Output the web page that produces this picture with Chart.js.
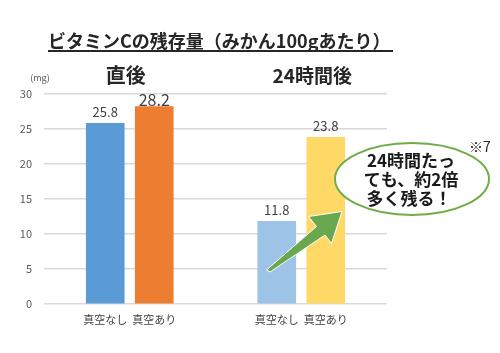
<!DOCTYPE html>
<html>
<head>
<meta charset="utf-8">
<script src="https://cdn.jsdelivr.net/npm/chart.js@4"></script>
<style>
  html, body { margin: 0; padding: 0; background: #fff; }
  #wrap { width: 500px; height: 353px; }
</style>
</head>
<body>
<div id="wrap"><canvas id="chart" width="500" height="353"></canvas></div>
<script>
// data
const labels = ['真空なし', '真空あり', '真空なし', '真空あり'];
const positions = [0, 1, 3.5, 4.5]; // slot positions along x (two groups)
const values = [25.8, 28.2, 11.8, 23.8];
const barColors = ['#5b9bd5', '#ed7d31', '#9dc3e6', '#ffd966'];
const yTicks = [0, 5, 10, 15, 20, 25, 30];
const groupTitles = ['直後', '24時間後'];

const FONT = '"Noto Sans CJK JP", "Noto Sans", sans-serif';

// titles, value labels, arrow and callout
const decorations = {
    id: 'decorations',
    afterDatasetsDraw(chart) {
        const ctx = chart.ctx;
        const xs = chart.scales.x, ys = chart.scales.y;
        ctx.save();

        // main title with underline
        ctx.fillStyle = '#262626';
        ctx.font = 'bold 18px ' + FONT;
        ctx.textAlign = 'left';
        ctx.textBaseline = 'middle';
        const title = 'ビタミンCの残存量（みかん100gあたり）';
        ctx.fillText(title, 48, 41);
        const tw = ctx.measureText(title).width;
        ctx.fillRect(48, 50, Math.max(tw, 345), 2);

        // group titles
        ctx.textAlign = 'center';
        ctx.font = 'bold 20px ' + FONT;
        ctx.fillText(groupTitles[0], (xs.getPixelForValue(positions[0]) + xs.getPixelForValue(positions[1])) / 2 - 4, 75);
        ctx.font = 'bold 19px ' + FONT;
        ctx.fillText(groupTitles[1], (xs.getPixelForValue(positions[2]) + xs.getPixelForValue(positions[3])) / 2 + 11, 76);

        // unit
        ctx.fillStyle = '#595959';
        ctx.font = '9px ' + FONT;
        ctx.fillText('(mg)', 40, 78);

        // value labels
        ctx.fillStyle = '#404040';
        values.forEach((v, i) => {
            ctx.font = (i === 1 ? '16px ' : '13px ') + FONT;
            const x = xs.getPixelForValue(positions[i]);
            const y = ys.getPixelForValue(v);
            ctx.fillText(v.toFixed(1), x, y - (i === 1 ? 7 : 11));
        });

        // arrow
        ctx.beginPath();
        ctx.moveTo(266.5, 270);
        ctx.lineTo(316.5, 226.5);
        ctx.lineTo(308.5, 216.5);
        ctx.lineTo(342, 211.5);
        ctx.lineTo(331.5, 243.5);
        ctx.lineTo(325, 235);
        ctx.lineTo(270, 272);
        ctx.closePath();
        ctx.fillStyle = '#6aa84f';
        ctx.fill();
        ctx.strokeStyle = '#ffffff';
        ctx.lineWidth = 1;
        ctx.stroke();

        // callout ellipse
        ctx.beginPath();
        ctx.ellipse(412, 179, 77, 36, 0, 0, Math.PI * 2);
        ctx.fillStyle = '#ffffff';
        ctx.fill();
        ctx.strokeStyle = '#70ad47';
        ctx.lineWidth = 2;
        ctx.stroke();

        ctx.fillStyle = '#1a1a1a';
        ctx.font = 'bold 17px ' + FONT;
        ctx.fillText('24時間たっ', 411, 161);
        ctx.fillText('ても、約2倍', 411, 180);
        ctx.fillText('多く残る！', 409, 199);

        ctx.font = '14px ' + FONT;
        ctx.fillStyle = '#262626';
        ctx.fillText('※7', 480, 147);

        ctx.restore();
    }
};

new Chart(document.getElementById('chart'), {
    type: 'bar',
    data: {
        datasets: [{
            data: positions.map((p, i) => ({ x: p, y: values[i] })),
            backgroundColor: barColors,
            borderWidth: 0,
            barThickness: 38
        }]
    },
    options: {
        responsive: false,
        animation: false,
        layout: { padding: { top: 94, right: 113, left: 0, bottom: 0 } },
        plugins: { legend: { display: false }, tooltip: { enabled: false } },
        scales: {
            x: {
                type: 'linear',
                min: -1.25,
                max: 5.75,
                offset: false,
                afterBuildTicks(scale) {
                    scale.ticks = positions.map(v => ({ value: v }));
                },
                afterFit(scale) { scale.height = 49; },
                ticks: {
                    autoSkip: false,
                    maxRotation: 0,
                    padding: 9,
                    color: '#404040',
                    font: { family: FONT, size: 11 },
                    callback: (v) => labels[positions.indexOf(v)] || ''
                },
                grid: { display: false, drawTicks: false },
                border: { display: false }
            },
            y: {
                min: 0,
                max: 30,
                afterBuildTicks(scale) {
                    scale.ticks = yTicks.map(v => ({ value: v }));
                },
                afterFit(scale) { scale.width = 44; },
                ticks: {
                    padding: 12,
                    color: '#595959',
                    font: { family: FONT, size: 11 }
                },
                grid: { color: '#d9d9d9', lineWidth: 1.5, drawTicks: false },
                border: { display: false }
            }
        }
    },
    plugins: [decorations]
});
</script>
</body>
</html>
